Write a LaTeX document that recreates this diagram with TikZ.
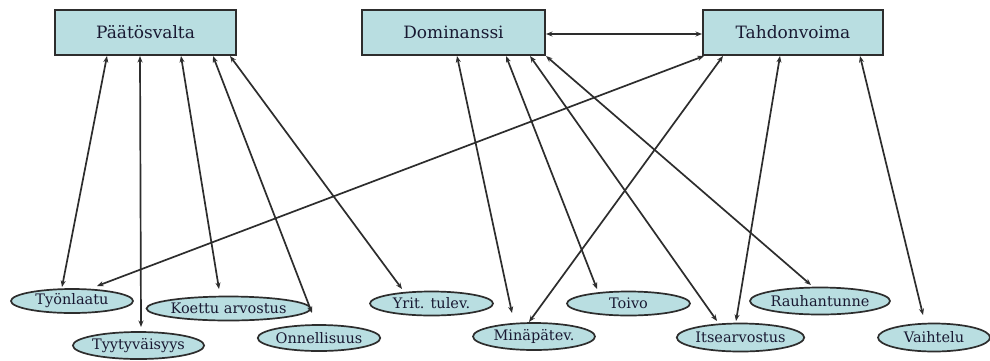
\documentclass[tikz,border=0pt]{standalone}
\usepackage{fontspec}
\setmainfont{DejaVu Serif}
\usetikzlibrary{arrows.meta,shapes.geometric,calc}
\definecolor{boxfill}{RGB}{185,222,225}
\definecolor{edgecol}{RGB}{45,45,45}
\definecolor{txtcol}{RGB}{25,25,50}
\tikzset{
  factor/.style={draw=edgecol,line width=2pt,fill=boxfill,minimum height=45pt,
    inner sep=0pt,text=txtcol,font=\fontsize{17}{20}\selectfont},
  trait/.style={ellipse,draw=edgecol,line width=1.7pt,fill=boxfill,inner sep=0pt,
    text=txtcol,font=\fontsize{14.5}{17}\selectfont},
  link/.style={draw=edgecol,line width=1.7pt,{Stealth[length=6.5pt,width=5pt]}-{Stealth[length=6.5pt,width=5pt]}}
}
\begin{document}
\begin{tikzpicture}[x=1pt,y=-1pt]
\useasboundingbox[fill=white] (0,0) rectangle (990,360);

% main factors
\node[factor,minimum width=181pt] (pv)  at (145.5,32.5) {Päätösvalta};
\node[factor,minimum width=183pt] (dom) at (453.5,32.5) {Dominanssi};
\node[factor,minimum width=180pt] (tah) at (793,32.5)   {Tahdonvoima};

% traits
\node[trait,minimum width=122pt,minimum height=24pt] (tyo) at (72,301)    {Työnlaatu};
\node[trait,minimum width=123pt,minimum height=27pt] (tyy) at (138.5,345.5) {Tyytyväisyys};
\node[trait,minimum width=143pt,minimum height=24pt] (koe) at (228.5,308.5) {Koettu arvostus};
\node[trait,minimum width=118pt,minimum height=26pt] (onn) at (319,338)   {Onnellisuus};
\node[trait,minimum width=123pt,minimum height=24pt] (yri) at (431.5,303.5) {Yrit. tulev.};
\node[trait,minimum width=122pt,minimum height=27pt] (min) at (534,336.5) {Minäpätev.};
\node[trait,minimum width=123pt,minimum height=24pt] (toi) at (628.5,303.5) {Toivo};
\node[trait,minimum width=124pt,minimum height=27pt] (rau) at (820,301)   {Rauhantunne};
\node[trait,minimum width=125pt,minimum height=28pt] (its) at (740.5,337.5) {Itsearvostus};
\node[trait,minimum width=112pt,minimum height=28pt] (vai) at (934,337.5) {Vaihtelu};

% Päätösvalta links
\draw[link] ($(pv.south west)+(53,0)$)  -- ($(tyo.center)+(-10,-14)$);
\draw[link] ($(pv.south west)+(86,0)$)  -- ($(tyy.center)+(2.5,-18.5)$);
\draw[link] ($(pv.south west)+(127,0)$) -- ($(koe.center)+(-9.5,-19.5)$);
\draw[link] ($(pv.south west)+(159,0)$) -- ($(onn.center)+(-7,-25)$);
\draw[link] ($(pv.south west)+(176,0)$) -- ($(yri.center)+(-29.5,-14.5)$);

% Dominanssi links
\draw[link] ($(dom.east)+(0,1.5)$) -- ($(tah.west)+(0,1.5)$);
\draw[link] ($(dom.south west)+(96,0)$)  -- ($(min.center)+(-22,-23.5)$);
\draw[link] ($(dom.south west)+(145,0)$) -- ($(toi.center)+(-31.5,-14.5)$);
\draw[link] ($(dom.south west)+(169,0)$) -- ($(its.center)+(-23.5,-16.5)$);
\draw[link] (dom.south east) -- ($(rau.center)+(-9,-16)$);

% Tahdonvoima links
\draw[link] ($(tah.south west)+(2,0)$)   -- ($(tyo.center)+(25,-15)$);
\draw[link] ($(tah.south west)+(21,0)$)  -- ($(min.center)+(-5,-14.5)$);
\draw[link] ($(tah.south west)+(78,0)$)  -- ($(its.center)+(-4.5,-16.5)$);
\draw[link] ($(tah.south west)+(158,0)$) -- ($(vai.center)+(-11,-22.5)$);
\end{tikzpicture}
\end{document}
